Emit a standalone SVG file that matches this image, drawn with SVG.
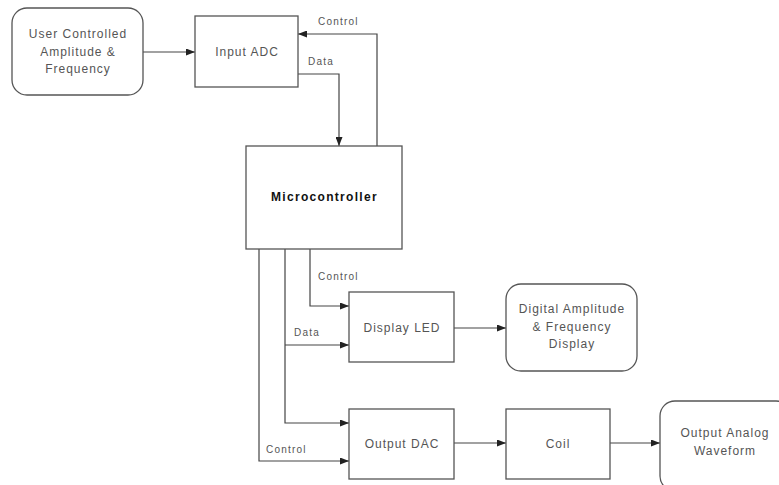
<svg xmlns="http://www.w3.org/2000/svg" width="779" height="485" viewBox="0 0 779 485">
<style>
.box{fill:#fff;stroke:#555;stroke-width:1.3}
.t{font-family:"Liberation Sans",Arial,sans-serif;font-size:12px;letter-spacing:1px;fill:#555;text-anchor:middle}
.l{font-family:"Liberation Sans",Arial,sans-serif;font-size:10px;letter-spacing:1.2px;fill:#555}
.c{fill:none;stroke:#444;stroke-width:1.2}
.b{font-weight:bold;fill:#111;letter-spacing:1.3px}
</style>
<defs>
<marker id="a" markerWidth="9" markerHeight="7" refX="9" refY="3.5" orient="auto" markerUnits="userSpaceOnUse">
<path d="M0,0 L9,3.5 L0,7 z" fill="#222"/>
</marker>
</defs>
<rect width="779" height="485" fill="#fff"/>
<g id="connectors">
<path class="c" d="M143,52 H195" marker-end="url(#a)"/>
<path class="c" d="M377,146 V34 H298" marker-end="url(#a)"/>
<path class="c" d="M298,74 H339 V146" marker-end="url(#a)"/>
<path class="c" d="M310,249 V306 H349" marker-end="url(#a)"/>
<path class="c" d="M285,345 H349" marker-end="url(#a)"/>
<path class="c" d="M285,249 V423 H349" marker-end="url(#a)"/>
<path class="c" d="M259,249 V461 H349" marker-end="url(#a)"/>
<path class="c" d="M454,328 H506" marker-end="url(#a)"/>
<path class="c" d="M454,443 H506" marker-end="url(#a)"/>
<path class="c" d="M610,443 H660" marker-end="url(#a)"/>
<text class="l" x="318" y="25">Control</text>
<text class="l" x="308" y="65">Data</text>
<text class="l" x="318" y="280">Control</text>
<text class="l" x="294" y="336">Data</text>
<text class="l" x="266" y="453">Control</text>
</g>
<g id="user">
<rect class="box" x="12" y="8" width="131" height="87" rx="15"/>
<text class="t" x="78" y="38">User Controlled</text>
<text class="t" x="78" y="56">Amplitude &amp;</text>
<text class="t" x="78" y="73">Frequency</text>
</g>
<g id="adc">
<rect class="box" x="195" y="16" width="103" height="71"/>
<text class="t" x="247" y="56">Input ADC</text>
</g>
<g id="mcu">
<rect class="box" x="246" y="146" width="156" height="103"/>
<text class="t b" x="324.5" y="201">Microcontroller</text>
</g>
<g id="led">
<rect class="box" x="349" y="292" width="105" height="70"/>
<text class="t" x="402" y="332">Display LED</text>
</g>
<g id="digital">
<rect class="box" x="506" y="284" width="131" height="87" rx="15"/>
<text class="t" x="572" y="313">Digital Amplitude</text>
<text class="t" x="572" y="331">&amp; Frequency</text>
<text class="t" x="572" y="348">Display</text>
</g>
<g id="dac">
<rect class="box" x="349" y="409" width="105" height="70"/>
<text class="t" x="402" y="448">Output DAC</text>
</g>
<g id="coil">
<rect class="box" x="506" y="409" width="104" height="70"/>
<text class="t" x="558" y="448">Coil</text>
</g>
<g id="analog">
<rect class="box" x="660" y="401" width="131" height="90" rx="15"/>
<text class="t" x="725" y="437">Output Analog</text>
<text class="t" x="725" y="455">Waveform</text>
</g>
</svg>
